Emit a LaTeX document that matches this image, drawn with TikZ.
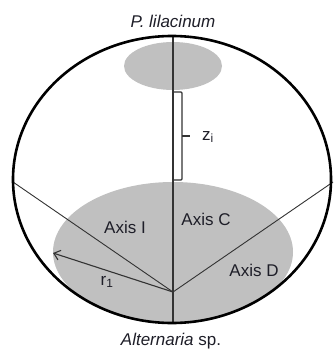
\documentclass[tikz,border=0pt]{standalone}
\usepackage{fontspec}
\setmainfont{Liberation Sans}
\usetikzlibrary{arrows.meta}
\definecolor{fillgray}{HTML}{C0C0C0}
\definecolor{linegray}{HTML}{333333}
\definecolor{txt}{HTML}{1E1E28}
\begin{document}
\begin{tikzpicture}[x=1pt,y=-1pt,
  lbl/.style={inner sep=0pt,text=txt,font=\fontsize{17}{19}\selectfont},
  thin line/.style={draw=linegray,line width=0.9pt},
  outline/.style={draw=black,line width=2.6pt}]
\useasboundingbox (0,0) rectangle (333,351);
% gray regions
\fill[fillgray] (173,66) ellipse [x radius=49,y radius=24];
\fill[fillgray] (173,252) ellipse [x radius=120,y radius=70];
% coordinates
\coordinate (top) at (173,36);
\coordinate (bottom) at (173,323);
\coordinate (hub) at (173,292);
\coordinate (leftend) at (13,182);
\coordinate (rightend) at (333,182);
\coordinate (rtip) at (53,253);
\coordinate (bt) at (173,92);
\coordinate (bb) at (173,180);
% lines
\draw[thin line,line width=1.2pt] (top) -- (bottom);
\draw[thin line] (hub) -- (leftend);
\draw[thin line] (hub) -- (rightend);
\draw[thin line,line width=1.1pt,-{Straight Barb[length=6pt,width=10pt]}] (hub) -- (rtip);
% bracket
\draw[thin line,line width=1.1pt,rounded corners=1pt] (bt) -- (182,92) -- (182,180) -- (bb);
\coordinate (tick) at (182,136);
\draw[thin line,line width=1.1pt] (tick) -- (190,136);
% outline
\draw[outline] (172,179.5) ellipse [x radius=159,y radius=143.5];
% labels
\node[lbl] (plil) at (173,21) {\itshape P. lilacinum};
\node[lbl] (alt) at (171,341) {\textit{Alternaria} sp.};
\node[lbl] (zi) at (208,137) {z$_{\mathrm{i}}$};
\node[lbl] (axI) at (125,227) {Axis I};
\node[lbl] (axC) at (206,219) {Axis C};
\node[lbl] (axD) at (254,270) {Axis D};
\node[lbl] (r1) at (107,282) {r\textsubscript{1}};
\end{tikzpicture}
\end{document}
